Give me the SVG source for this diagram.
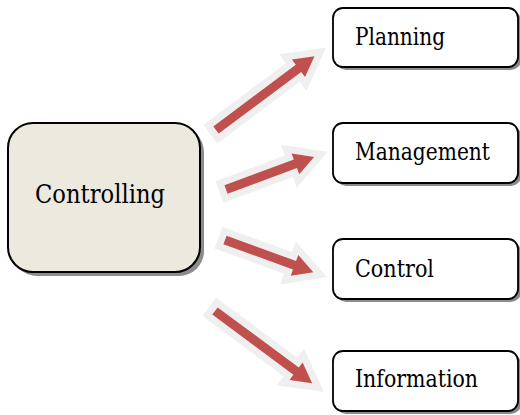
<svg xmlns="http://www.w3.org/2000/svg" width="520" height="415" viewBox="0 0 520 415">
<style>
.box{fill:#fff;stroke:#000;stroke-width:1.8}
.shadow{fill:#8c8c8c}
.main{fill:#ECE9DF;stroke:#000;stroke-width:2}
.lbl{font-family:'DejaVu Serif','Liberation Serif',serif;font-size:24px;fill:#000}
.glow{fill:#EFEFEF;stroke:#EFEFEF;stroke-width:14;stroke-linejoin:miter;stroke-miterlimit:10}
.arr{fill:#C0504D}
</style>
<g id="connectors">
<g transform="translate(216,130) rotate(-36.8)">
<polygon class="glow" points="0,-4.5 103,-4.5 103,-11 123,0 103,11 103,4.5 0,4.5"/>
<polygon class="arr" points="0,-4.5 103,-4.5 103,-11 123,0 103,11 103,4.5 0,4.5"/>
</g>
<g transform="translate(226,189.5) rotate(-20.3)">
<polygon class="glow" points="0,-4.5 74,-4.5 74,-11 94,0 74,11 74,4.5 0,4.5"/>
<polygon class="arr" points="0,-4.5 74,-4.5 74,-11 94,0 74,11 74,4.5 0,4.5"/>
</g>
<g transform="translate(225,240) rotate(20)">
<polygon class="glow" points="0,-4.5 74,-4.5 74,-11 94,0 74,11 74,4.5 0,4.5"/>
<polygon class="arr" points="0,-4.5 74,-4.5 74,-11 94,0 74,11 74,4.5 0,4.5"/>
</g>
<g transform="translate(215,311) rotate(36.6)">
<polygon class="glow" points="0,-4.5 101,-4.5 101,-11 121,0 101,11 101,4.5 0,4.5"/>
<polygon class="arr" points="0,-4.5 101,-4.5 101,-11 121,0 101,11 101,4.5 0,4.5"/>
</g>
</g>
<g id="controlling">
<rect class="shadow" x="12" y="127" width="192" height="149" rx="25"/>
<rect class="main" x="8" y="123" width="192" height="149" rx="25"/>
<text class="lbl" x="35" y="203" style="font-size:26px" textLength="130" lengthAdjust="spacingAndGlyphs">Controlling</text>
</g>
<g id="planning">
<rect class="shadow" x="336" y="11" width="185" height="59" rx="10"/>
<rect class="box" x="333" y="8" width="185" height="59" rx="10"/>
<text class="lbl" x="355" y="45" textLength="90" lengthAdjust="spacingAndGlyphs">Planning</text>
</g>
<g id="management">
<rect class="shadow" x="336" y="126" width="185" height="60" rx="10"/>
<rect class="box" x="333" y="123" width="185" height="60" rx="10"/>
<text class="lbl" x="355" y="160" textLength="135" lengthAdjust="spacingAndGlyphs">Management</text>
</g>
<g id="control">
<rect class="shadow" x="336" y="242" width="185" height="60" rx="10"/>
<rect class="box" x="333" y="239" width="185" height="60" rx="10"/>
<text class="lbl" x="355" y="277" textLength="79" lengthAdjust="spacingAndGlyphs">Control</text>
</g>
<g id="information">
<rect class="shadow" x="336" y="354" width="185" height="60" rx="10"/>
<rect class="box" x="333" y="351" width="185" height="60" rx="10"/>
<text class="lbl" x="355" y="387" textLength="123" lengthAdjust="spacingAndGlyphs">Information</text>
</g>
</svg>
